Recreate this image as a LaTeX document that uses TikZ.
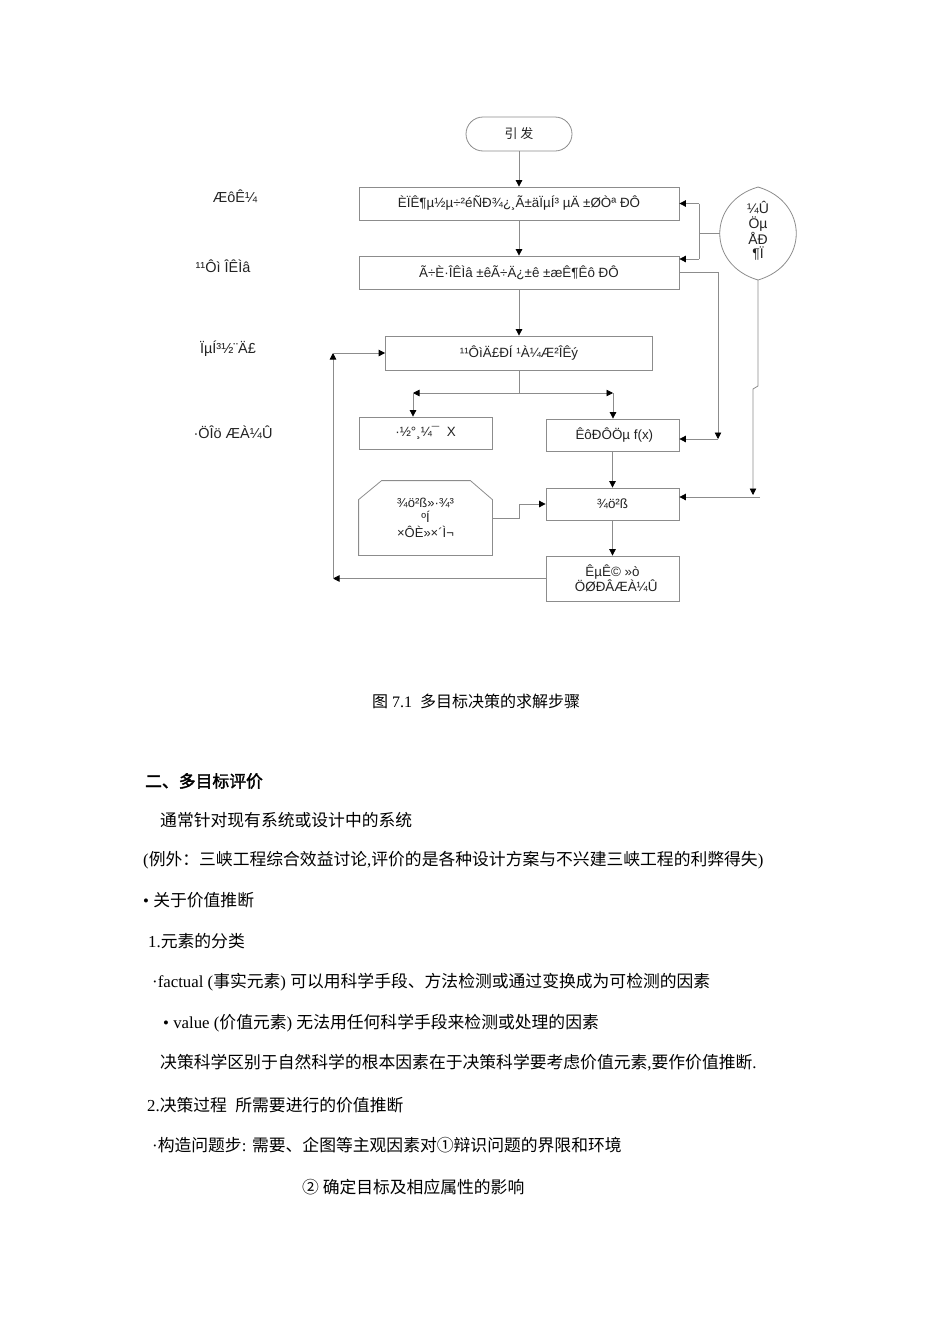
\documentclass[tikz,border=0pt]{standalone}
\usepackage{fontspec}
\setmainfont{Liberation Serif}
\setsansfont{Liberation Sans}
\newfontfamily\cjk{Noto Sans CJK SC}
\newfontfamily\cjkb[FakeBold=2]{Noto Sans CJK SC}
\usepackage{xcolor}
\usepackage{tikz}
\usetikzlibrary{arrows.meta}
\definecolor{linegray}{HTML}{8C8C8C}
\definecolor{inkgray}{HTML}{222222}
\newcommand\zh[1]{{\cjk #1}}

\begin{document}
\begin{tikzpicture}[x=1pt, y=-1pt,
        box/.style={draw=linegray, line width=0.8pt, minimum width=133pt,
                    minimum height=32pt, inner sep=0pt, align=center,
                    text=inkgray, font=\sffamily\fontsize{13.4}{15}\selectfont},
        wide/.style={box, minimum width=320pt, minimum height=33pt},
        lbl/.style={text=inkgray, font=\sffamily\fontsize{14.5}{17}\selectfont},
        arr/.style={draw=linegray, line width=0.8pt, -{Triangle[length=6.5pt,width=6.5pt,color=black]}},
        ln/.style={draw=linegray, line width=0.8pt},
        txt/.style={anchor=west, inner sep=0pt, text=black, font=\rmfamily\fontsize{16.8}{19}\selectfont}
    ]
        \useasboundingbox (0,0) rectangle (950,1344);
        % flow chart
        \node[box, minimum width=106pt, minimum height=34pt, rounded corners=17pt,
              font=\cjk\fontsize{13}{15}\selectfont] (start) at (519,134) {引 发};
        \node[wide] (b1) at (519,203.5) {ÈÏÊ¶µ½µ÷²éÑÐ¾¿¸Ã±äÏµÍ³ µÄ ±ØÒª ÐÔ};
        \node[wide] (b2) at (519,272.5) {Ã÷È·ÎÊÌâ ±êÃ÷Ä¿±ê ±æÊ¶Êô ÐÔ};
        \node[box, minimum width=267pt, minimum height=34pt] (b3) at (519,353) {¹¹ÔìÄ£ÐÍ ¹À¼Æ²ÎÊý};
        \node[box] (b4) at (425.5,433) {·½°¸¼¯ \ X};
        \node[box] (b5) at (612.5,435) {\ ÊôÐÔÖµ f(x)};
        \node[box] (b7) at (612.5,504) {¾ö²ß};
        \node[box, minimum height=45pt] (b8) at (612.5,578.5) {ÊµÊ© »ò\\ \ \ ÖØÐÂÆÀ¼Û};
        \node[box, draw=none, minimum height=74pt, font=\sffamily\fontsize{13}{15}\selectfont]
            (env) at (425.5,518) {¾ö²ß»·¾³\\ºÍ\\×ÔÈ»×´Ì¬};
        \draw[ln] (env.south west) -- ([yshift=-19pt]env.north west) -- ([xshift=23pt]env.north west)
            -- ([xshift=-22pt]env.north east) -- ([yshift=-19pt]env.north east) -- (env.south east) -- cycle;
        % value judgement leaf
        \node[lbl, align=center, inner sep=0pt, font=\sffamily\fontsize{14}{14.5}\selectfont]
            (judge) at (758,231) {¼Û\\Öµ\\ÅÐ\\¶Ï};
        \draw[ln] (758,187) .. controls (707,202) and (707,265) .. (758,280)
            .. controls (809,265) and (809,202) .. (758,187);
        \coordinate (leafW) at (720,233);
        \coordinate (leafS) at (758,280);
        % stage labels
        \node[lbl] (s1) at (235,196) {ÆôÊ¼};
        \node[lbl] (s2) at (223,266) {¹¹Ôì ÎÊÌâ};
        \node[lbl] (s3) at (228,349) {ÏµÍ³½¨Ä£};
        \node[lbl] (s4) at (233,432) {·ÖÎö ÆÀ¼Û};
        % connectors
        \draw[arr] (start) -- (b1);
        \draw[arr] (b1) -- (b2);
        \draw[arr] (b2) -- (b3);
        \coordinate (jA) at (699,203.5);
        \coordinate (jB) at (699,259);
        \draw[ln] (leafW) -- (leafW -| jA);
        \draw[ln] (jA) -- (jB);
        \draw[arr] (jA) -- (b1.east);
        \draw[arr] (jB) -- (b2.east |- jB);
        \coordinate (rB) at (718,439);
        \draw[arr] (b2.east) -| (rB);
        \draw[arr] (rB) -- (b5.east |- rB);
        \coordinate (rC) at (753,495);
        \coordinate (rD) at (760,497);
        \draw[arr] (leafS) -- (758,386) -- (753,389) -- (rC);
        \draw[arr] (rD) -- (b7.east |- rD);
        \coordinate (sp) at (519,393);
        \coordinate (sL) at (413,393);
        \coordinate (sR) at (613,393);
        \draw[ln] (b3.south) -- (sp);
        \draw[arr] (sp) -- (sL);
        \draw[arr] (sp) -- (sR);
        \draw[arr] (sL) -- (sL |- b4.north);
        \draw[arr] (sR) -- (sR |- b5.north);
        \draw[arr] (b5) -- (b7);
        \draw[arr] (env.east) -- ++(27,0) |- (b7.west);
        \draw[arr] (b7) -- (b8);
        \coordinate (lp) at (333,578.5);
        \coordinate (lq) at (333,353);
        \draw[arr] (b8.west) -- (lp);
        \draw[arr] (lp) -- (lq);
        \draw[arr] (lq) -- (b3.west);
        % caption and text
        \node[txt, anchor=center, font=\rmfamily\fontsize{16}{18}\selectfont] (cap) at (476,701)
            {\zh{图} 7.1\ \ \zh{多目标决策的求解步骤}};
        \node[txt, font=\cjkb\fontsize{16.8}{19}\selectfont] (h2) at (145,781) {二、多目标评价};
        \node[txt] (t1) at (160,820) {\zh{通常针对现有系统或设计中的系统}};
        \node[txt] (t2) at (143,860) {(\zh{例外：三峡工程综合效益讨论},\zh{评价的是各种设计方案与不兴建三峡工程的利弊得失})};
        \node[txt] (t3) at (143,900) {• \zh{关于价值推断}};
        \node[txt] (t4) at (148,941) {1.\zh{元素的分类}};
        \node[txt] (t5) at (152,982) {·factual (\zh{事实元素}) \zh{可以用科学手段、方法检测或通过变换成为可检测的因素}};
        \node[txt] (t6) at (163,1023) {• value (\zh{价值元素}) \zh{无法用任何科学手段来检测或处理的因素}};
        \node[txt] (t7) at (160,1063) {\zh{决策科学区别于自然科学的根本因素在于决策科学要考虑价值元素},\zh{要作价值推断}.};
        \node[txt] (t8) at (147,1105) {2.\zh{决策过程}\ \ \zh{所需要进行的价值推断}};
        \node[txt] (t9) at (152,1145) {·\zh{构造问题步}: \zh{需要、企图等主观因素对①辩识问题的界限和环境}};
        \node[txt] (t10) at (302,1187) {\zh{② 确定目标及相应属性的影响}};
\end{tikzpicture}
\end{document}
